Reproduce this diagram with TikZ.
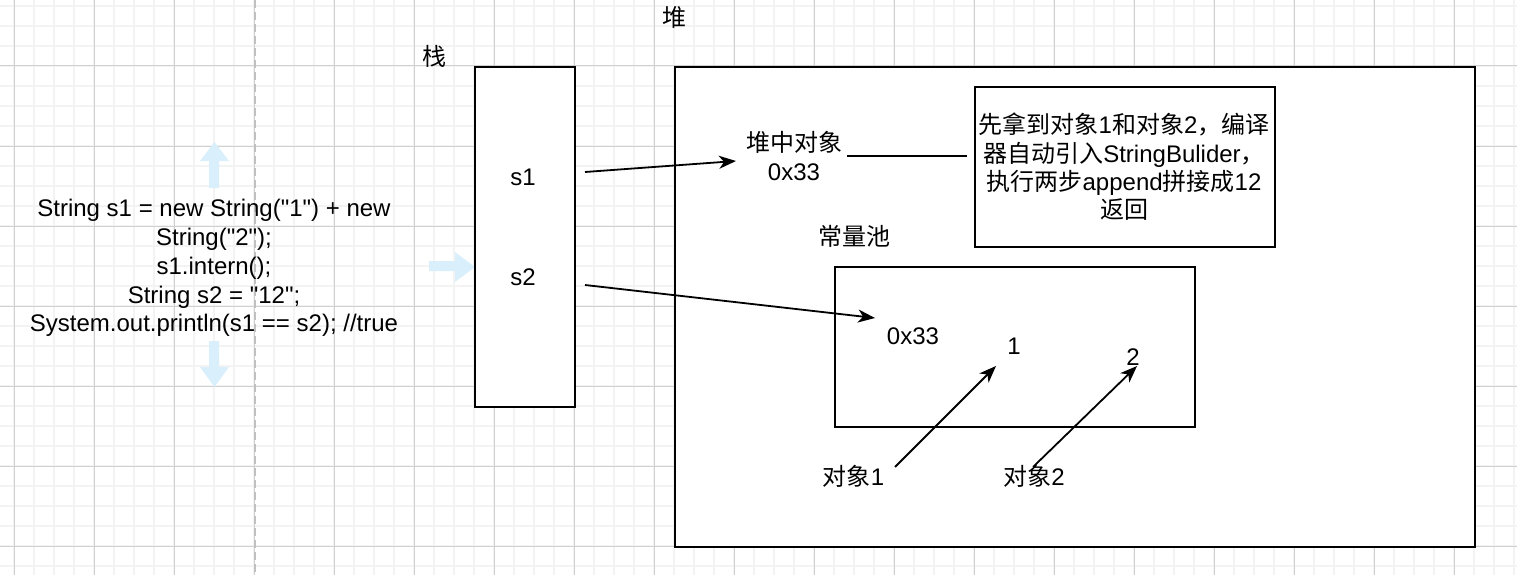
\documentclass[tikz,border=0pt]{standalone}
\usepackage{fontspec}
\setmainfont{Liberation Sans}[Ligatures=TeXOff]
\newfontfamily\cjk{Noto Sans CJK SC}
\usetikzlibrary{arrows.meta}
\newcommand\zh[1]{{\cjk #1}}

\definecolor{gridminor}{RGB}{243,243,243}
\definecolor{gridmajor}{RGB}{208,208,208}
\definecolor{pagebreak}{RGB}{192,192,192}
\definecolor{hoverblue}{RGB}{217,240,252}

\begin{document}
\begin{tikzpicture}[x=1pt,y=-1pt,
  box/.style={draw=black, line width=2pt, fill=white, inner sep=0pt},
  lbl/.style={inner sep=0pt, font=\fontsize{24}{28.8}\selectfont, align=center},
  notetext/.style={inner sep=0pt, font=\fontsize{24}{28.4}\selectfont, align=center},
  arr/.style={line width=1.8pt, -{Stealth[length=17pt,width=13pt,inset=5pt]}},
  plainline/.style={line width=1.8pt},
  hover/.style={fill=hoverblue, draw=none}]

\useasboundingbox (0,0) rectangle (1517,575);
\fill[white] (0,0) rectangle (1517,575);

% background grid
\foreach \x in {14,34,...,1514} \draw[gridminor, line width=1.5pt] (\x,0) -- (\x,575);
\foreach \y in {6,26,...,566} \draw[gridminor, line width=1.5pt] (0,\y) -- (1517,\y);
\foreach \x in {14,94,...,1454} \draw[gridmajor, line width=1pt] (\x,0) -- (\x,575);
\foreach \y in {66,146,...,546} \draw[gridmajor, line width=1pt] (0,\y) -- (1517,\y);

% page break
\draw[pagebreak, line width=1.6pt, dash pattern=on 8pt off 4pt] (255,0) -- (255,575);

% code snippet
\node[lbl] (code) at (214,268) {String s1 = new String("1") + new\\String("2");\\s1.intern();\\String s2 = "12";\\System.out.println(s1 == s2); //true};

% light blue arrows around the snippet
\fill[hover] (209,188) -- (209,161) -- (200,161) -- (214.5,142) -- (229,161) -- (219,161) -- (219,188) -- cycle;
\fill[hover] (209,341) -- (219,341) -- (219,367) -- (229,367) -- (214.5,387) -- (200,367) -- (209,367) -- cycle;
\fill[hover] (429,261) -- (455,261) -- (455,252) -- (475,267) -- (455,282) -- (455,271) -- (429,271) -- cycle;

% stack
\node[box, minimum width=100, minimum height=340] (stack) at (525,237) {};
\node[lbl] (stacktitle) at (434,56) {\zh{栈}};
\node[lbl] (s1) at (523,177) {s1};
\node[lbl] (s2) at (523,277.5) {s2};

% heap
\node[box, minimum width=800, minimum height=480] (heap) at (1075,307) {};
\node[lbl] (heaptitle) at (674,17) {\zh{堆}};
\node[box, minimum width=300, minimum height=160] (note) at (1125,167) {};
\node[notetext] (notetxt) at (1124,167) {\zh{先拿到对象}1\zh{和对象}2\zh{，编译}\\\zh{器自动引入}StringBulider\zh{，}\\\zh{执行两步}append\zh{拼接成}12\\\zh{返回}};
\node[lbl] (heapobj) at (794,156) {\zh{堆中对象}\\0x33};

% constant pool
\node[box, minimum width=360, minimum height=160] (pool) at (1015,347) {};
\node[lbl] (pooltitle) at (854.5,236) {\zh{常量池}};
\node[lbl] (addr) at (913,336.5) {0x33};
\node[lbl] (one) at (1014,346.5) {1};
\node[lbl] (two) at (1133,357.5) {2};
\node[lbl] (obj1) at (853.5,476.5) {\zh{对象}1};
\node[lbl] (obj2) at (1034,476.5) {\zh{对象}2};

% connector end points
\coordinate (s1out) at (585,172);
\coordinate (s1in) at (736,161);
\coordinate (s2out) at (585,285);
\coordinate (s2in) at (875,318);
\coordinate (obj1out) at (895,467);
\coordinate (onein) at (996,366);
\coordinate (obj2out) at (1033,467);
\coordinate (twoin) at (1137,366);
\coordinate (objout) at (847,156);
\coordinate (notein) at (967,156);

\draw[arr] (s1out) -- (s1in);
\draw[arr] (s2out) -- (s2in);
\draw[arr] (obj1out) -- (onein);
\draw[arr] (obj2out) -- (twoin);
\draw[plainline] (objout) -- (notein);
\end{tikzpicture}
\end{document}
